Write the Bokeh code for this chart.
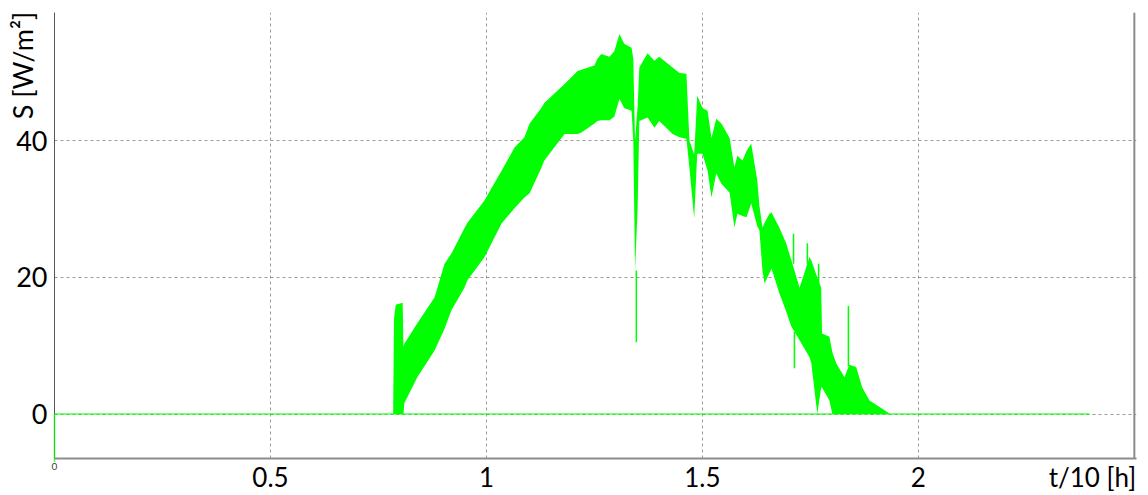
from bokeh.plotting import figure
from bokeh.models import Range1d, FixedTicker, LinearAxis, Span
from bokeh.embed import file_html
from bokeh.resources import INLINE

# ---- data ----
x_ticks = [0.5, 1, 1.5, 2]
x_tick_labels = ["0.5", "1", "1.5", "2"]
y_ticks = [0, 20, 40]
x_title_pos = 2.403          # where the x title sits on the time axis
x_title = "t/10 [h]"
y_title_pos = 51.0           # where the y title sits on the S axis
y_title = "S [W/m²]"

# night-time baseline of the signal
base_t = [0.0, 0.0, 0.785, 1.933, 2.396]
base_s = [-7.0, 0.0, 0.0, 0.0, 0.0]

# envelope of the fast-oscillating daytime signal
band_t = [0.784, 0.786, 0.790, 0.806, 0.808, 0.810, 0.840, 0.880, 0.903, 0.919,
          0.949, 0.956, 0.995, 1.035, 1.065, 1.088, 1.100, 1.127, 1.134, 1.181,
          1.211, 1.220, 1.250, 1.257, 1.266, 1.285, 1.296, 1.308, 1.319, 1.336,
          1.340, 1.344, 1.350, 1.354, 1.373, 1.389, 1.400, 1.431, 1.447, 1.463,
          1.470, 1.481, 1.488, 1.500, 1.512, 1.521, 1.532, 1.544, 1.563, 1.574,
          1.581, 1.593, 1.602, 1.613, 1.627, 1.632, 1.639, 1.644, 1.655, 1.660,
          1.678, 1.694, 1.701, 1.706, 1.725, 1.748, 1.752, 1.766, 1.775, 1.777,
          1.794, 1.801, 1.810, 1.829, 1.840, 1.856, 1.870, 1.887, 1.928, 1.933]
band_lo = [0.0, 0.0, 0.0, 0.0, 0.0, 1.6, 5.4, 9.3, 12.5, 15.2,
           18.5, 19.6, 22.9, 27.9, 30.1, 31.7, 32.3, 36.0, 37.1, 41.0,
           41.0, 41.2, 42.5, 42.9, 43.0, 43.0, 43.5, 46.1, 44.8, 44.4,
           40.0, 21.0, 30.0, 42.9, 43.4, 41.9, 42.9, 41.0, 40.5, 40.3,
           36.0, 28.6, 38.1, 38.1, 35.6, 31.7, 35.2, 33.7, 32.4, 27.3,
           29.3, 29.0, 28.8, 30.8, 27.5, 26.9, 21.0, 19.1, 20.6, 21.3,
           17.7, 15.0, 13.7, 12.8, 10.8, 8.3, 7.5, 0.0, 3.9, 3.9,
           2.0, 0.0, 0.0, 0.0, 0.0, 0.0, 0.0, 0.0, 0.0, 0.0]
band_hi = [0.0, 14.0, 16.0, 16.3, 9.8, 10.3, 13.3, 17.1, 22.0, 23.5,
           27.2, 28.0, 31.2, 35.6, 39.0, 40.5, 42.5, 44.8, 45.5, 48.3,
           50.2, 50.4, 51.0, 52.0, 52.7, 52.3, 53.1, 55.6, 54.2, 53.6,
           52.0, 40.0, 45.0, 50.7, 52.8, 51.7, 52.3, 50.7, 49.9, 49.8,
           40.0, 38.0, 46.6, 44.8, 44.4, 40.4, 43.2, 42.5, 40.4, 36.1,
           37.8, 37.1, 38.5, 39.6, 34.2, 30.5, 27.3, 28.0, 29.3, 29.5,
           27.3, 25.0, 23.5, 22.5, 18.5, 23.0, 22.5, 20.0, 18.5, 11.8,
           11.3, 9.0, 7.4, 5.4, 7.2, 6.9, 3.9, 2.0, 0.3, 0.0]

# isolated single-sample spikes
spike_t = [1.347, 1.711, 1.713, 1.743, 1.757, 1.769, 1.838]
spike_from = [21.0, 22.0, 12.0, 22.0, 8.0, 19.0, 7.0]
spike_to = [10.5, 26.4, 6.7, 25.0, 6.0, 22.0, 15.8]

FONT = "Lato"
GREEN = "#00ff00"
AXIS_GREY = "#8c8c8c"

p = figure(width=1146, height=495, x_range=Range1d(0, 2.505), y_range=Range1d(-6.5, 58.76),
           output_backend="svg", toolbar_location=None,
           min_border_left=54, min_border_right=10, min_border_top=12, min_border_bottom=36)
p.outline_line_color = None
p.background_fill_color = "white"
p.border_fill_color = "white"

def no_ticks(ax):
    ax.major_tick_out = 0
    ax.major_tick_in = 0
    ax.minor_tick_out = 0
    ax.minor_tick_in = 0

# bottom axis closest to the frame: carries the line and the small origin label
xa0 = p.xaxis[0]
xa0.ticker = FixedTicker(ticks=[0])
no_ticks(xa0)
xa0.axis_line_color = AXIS_GREY
xa0.axis_line_width = 2
xa0.major_label_text_font = FONT
xa0.major_label_text_font_size = "10px"
xa0.major_label_text_color = "#444444"
xa0.major_label_standoff = 4

# outer bottom axis: tick labels and the x title
overrides = {t: s for t, s in zip(x_ticks, x_tick_labels)}
overrides[x_title_pos] = x_title
xa1 = LinearAxis(ticker=FixedTicker(ticks=x_ticks + [x_title_pos]),
                 major_label_overrides=overrides, axis_line_color=None,
                 major_label_text_font=FONT, major_label_text_font_size="26px",
                 major_label_text_color="black", major_label_standoff=-12)
no_ticks(xa1)
p.add_layout(xa1, "below")

# y axis
ya = p.yaxis[0]
ya.ticker = FixedTicker(ticks=y_ticks)
no_ticks(ya)
ya.axis_line_color = "#555555"
ya.axis_line_width = 1
ya.major_label_text_font = FONT
ya.major_label_text_font_size = "27px"
ya.major_label_text_color = "black"
ya.major_label_standoff = 7

# outer left axis carrying the vertical y title
ya1 = LinearAxis(ticker=FixedTicker(ticks=[y_title_pos]),
                 major_label_overrides={y_title_pos: y_title}, axis_line_color=None,
                 major_label_orientation="vertical",
                 major_label_text_font=FONT, major_label_text_font_size="27px",
                 major_label_text_color="black", major_label_standoff=-26)
no_ticks(ya1)
p.add_layout(ya1, "left")

# grid
p.xgrid.ticker = FixedTicker(ticks=x_ticks)
p.ygrid.ticker = FixedTicker(ticks=y_ticks)
p.xgrid.grid_line_color = "#9a9a9a"
p.xgrid.grid_line_dash = "3 3"
p.ygrid.grid_line_color = "#9a9a9a"
p.ygrid.grid_line_dash = "3 3"

# right border
p.add_layout(Span(location=2.5, dimension="height", line_color=AXIS_GREY, line_width=2))

# data
p.varea(x=band_t, y1=band_lo, y2=band_hi, fill_color=GREEN, fill_alpha=1.0)
p.line(base_t, base_s, line_color=GREEN, line_width=1.5, line_alpha=0.7, level="overlay")
p.segment(x0=spike_t, y0=spike_from, x1=spike_t, y1=spike_to, line_color=GREEN, line_width=1.5)

open("out.html", "w").write(file_html(p, INLINE))
